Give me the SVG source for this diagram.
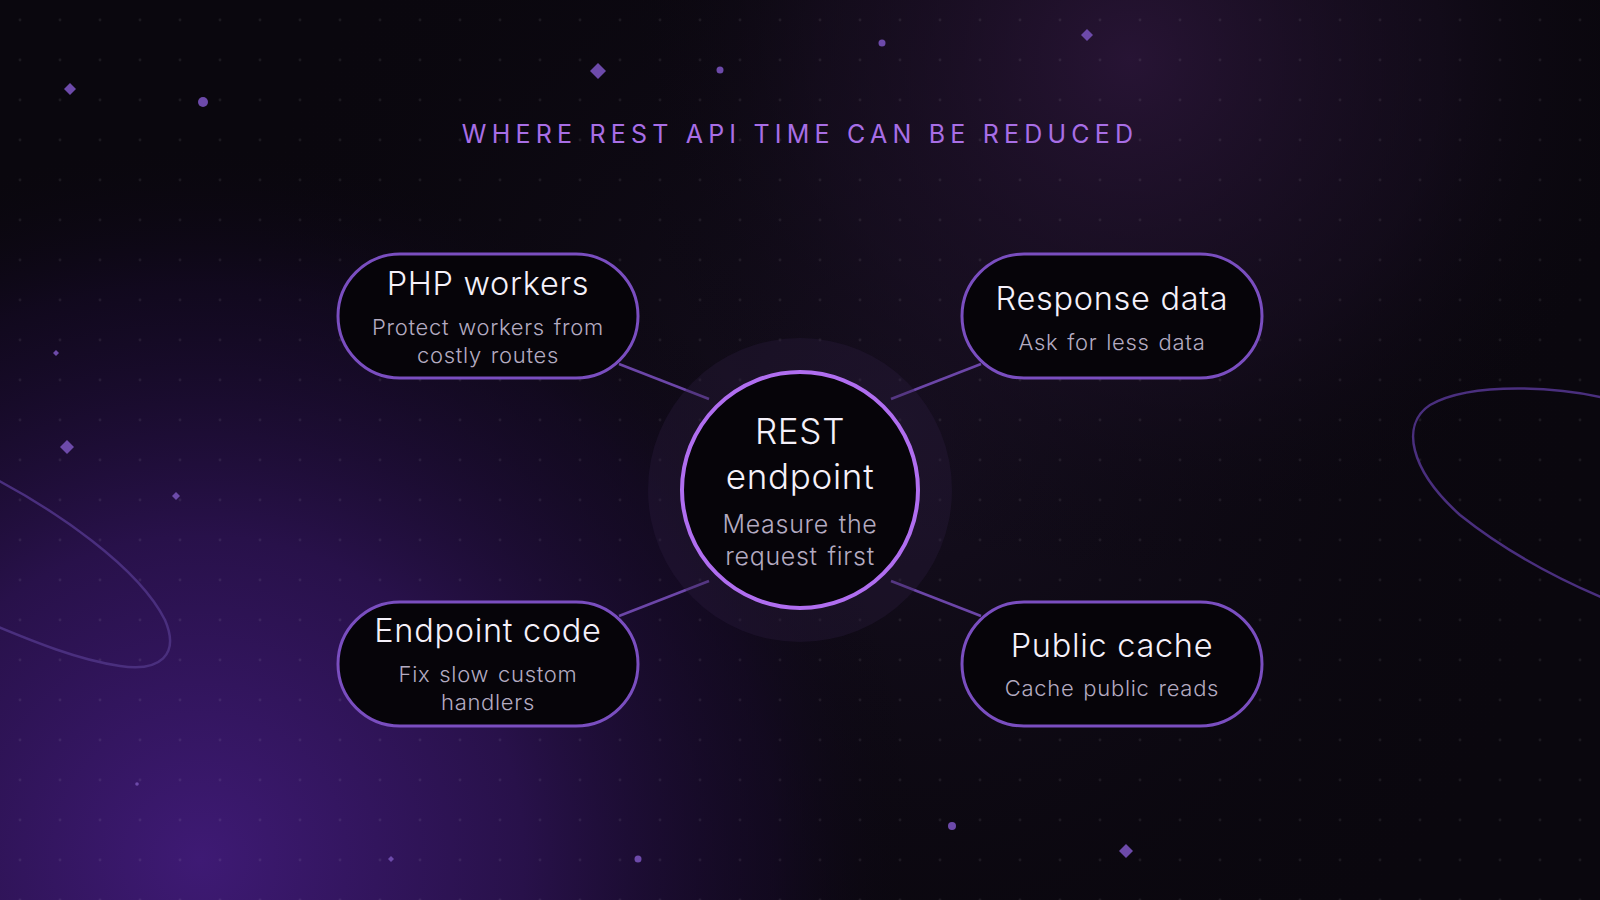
<svg xmlns="http://www.w3.org/2000/svg" width="1600" height="900" viewBox="0 0 1600 900">
<defs>
<radialGradient id="gBL" cx="200" cy="860" r="720" gradientUnits="userSpaceOnUse">
<stop offset="0" stop-color="#3e1a74"/>
<stop offset="0.45" stop-color="#28114a"/>
<stop offset="0.8" stop-color="#160a28" stop-opacity="0.6"/>
<stop offset="1" stop-color="#0a070e" stop-opacity="0"/>
</radialGradient>
<radialGradient id="gTR" cx="1130" cy="60" r="520" gradientUnits="userSpaceOnUse">
<stop offset="0" stop-color="#2a1538" stop-opacity="0.9"/>
<stop offset="0.6" stop-color="#1a0f24" stop-opacity="0.5"/>
<stop offset="1" stop-color="#0a070e" stop-opacity="0"/>
</radialGradient>
<radialGradient id="gC" cx="900" cy="420" r="700" gradientUnits="userSpaceOnUse">
<stop offset="0" stop-color="#1a1126" stop-opacity="0.8"/>
<stop offset="1" stop-color="#0a070e" stop-opacity="0"/>
</radialGradient>
<pattern id="dots" x="0" y="0" width="40" height="40" patternUnits="userSpaceOnUse">
<circle cx="20" cy="20" r="1.4" fill="#ffffff" fill-opacity="0.07"/>
</pattern>
<style>
.pill{fill:#060409;stroke:#7a4ec0;stroke-width:3}
.conn{stroke:#6c46a8;stroke-width:2.5;fill:none}
.ttl{font-family:Inter,"Noto Sans",sans-serif;font-weight:300;fill:#f5f1fa;text-anchor:middle;letter-spacing:0.7px}
.sub{font-family:Inter,"Noto Sans",sans-serif;font-weight:300;fill:#b4abc1;text-anchor:middle;letter-spacing:0.7px;word-spacing:2px}
.deco{fill:#6d4aaa}
.orbit{fill:none;stroke:#4a2f7e;stroke-width:2.5}
</style>
</defs>
<rect width="1600" height="900" fill="#0a070e"/>
<rect width="1600" height="900" fill="url(#gC)"/>
<rect width="1600" height="900" fill="url(#gTR)"/>
<rect width="1600" height="900" fill="url(#gBL)"/>
<rect width="1600" height="900" fill="url(#dots)"/>

<g id="decorations">
<path class="orbit" d="M -30,466 C 60,510 140,570 165,620 C 180,655 160,672 120,666 C 80,660 40,645 -30,615"/>
<path class="orbit" d="M 1620,402 C 1560,385 1470,382 1430,405 C 1400,425 1410,470 1460,515 C 1510,555 1570,585 1620,605" stroke="#3d2866"/>
<path class="deco" d="M70,83 L76,89 L70,95 L64,89 Z"/>
<circle class="deco" cx="203" cy="102" r="5"/>
<path class="deco" d="M598,63 L606,71 L598,79 L590,71 Z"/>
<circle class="deco" cx="720" cy="70" r="3.5"/>
<circle class="deco" cx="882" cy="43" r="3.5"/>
<path class="deco" d="M1087,29 L1093,35 L1087,41 L1081,35 Z"/>
<path class="deco" d="M56,350 L59,353 L56,356 L53,353 Z"/>
<path class="deco" d="M67,440 L74,447 L67,454 L60,447 Z"/>
<path class="deco" d="M176,492 L180,496 L176,500 L172,496 Z"/>
<circle class="deco" cx="137" cy="784" r="1.8"/>
<path class="deco" d="M391,856 L394,859 L391,862 L388,859 Z"/>
<circle class="deco" cx="638" cy="859" r="3.5"/>
<circle class="deco" cx="952" cy="826" r="4"/>
<path class="deco" d="M1126,844 L1133,851 L1126,858 L1119,851 Z"/>
</g>

<text x="800" y="143" font-family="Inter,'Noto Sans',sans-serif" font-size="25" letter-spacing="5.2" fill="#a86ee6" text-anchor="middle">WHERE REST API TIME CAN BE REDUCED</text>

<g id="connectors">
<line class="conn" x1="619" y1="364" x2="709" y2="399"/>
<line class="conn" x1="981" y1="364" x2="891" y2="399"/>
<line class="conn" x1="619" y1="616" x2="709" y2="581"/>
<line class="conn" x1="981" y1="616" x2="891" y2="581"/>
</g>

<g id="node-center">
<circle cx="800" cy="490" r="152" fill="#2a1d40" fill-opacity="0.35"/>
<circle cx="800" cy="490" r="118" fill="#060409" stroke="#b06ef0" stroke-width="4"/>
<text class="ttl" x="800" y="444" font-size="35">REST</text>
<text class="ttl" x="800" y="489" font-size="35">endpoint</text>
<text class="sub" x="800" y="533" font-size="25">Measure the</text>
<text class="sub" x="800" y="565" font-size="25">request first</text>
</g>

<g id="node-php">
<rect class="pill" x="338" y="254" width="300" height="124" rx="62"/>
<text class="ttl" x="488" y="295" font-size="32.5">PHP workers</text>
<text class="sub" x="488" y="335" font-size="22">Protect workers from</text>
<text class="sub" x="488" y="363" font-size="22">costly routes</text>
</g>

<g id="node-response">
<rect class="pill" x="962" y="254" width="300" height="124" rx="62"/>
<text class="ttl" x="1112" y="310" font-size="32.5">Response data</text>
<text class="sub" x="1112" y="350" font-size="22">Ask for less data</text>
</g>

<g id="node-endpoint">
<rect class="pill" x="338" y="602" width="300" height="124" rx="62"/>
<text class="ttl" x="488" y="642" font-size="32.5">Endpoint code</text>
<text class="sub" x="488" y="682" font-size="22">Fix slow custom</text>
<text class="sub" x="488" y="710" font-size="22">handlers</text>
</g>

<g id="node-cache">
<rect class="pill" x="962" y="602" width="300" height="124" rx="62"/>
<text class="ttl" x="1112" y="657" font-size="32.5">Public cache</text>
<text class="sub" x="1112" y="696" font-size="22">Cache public reads</text>
</g>
</svg>
